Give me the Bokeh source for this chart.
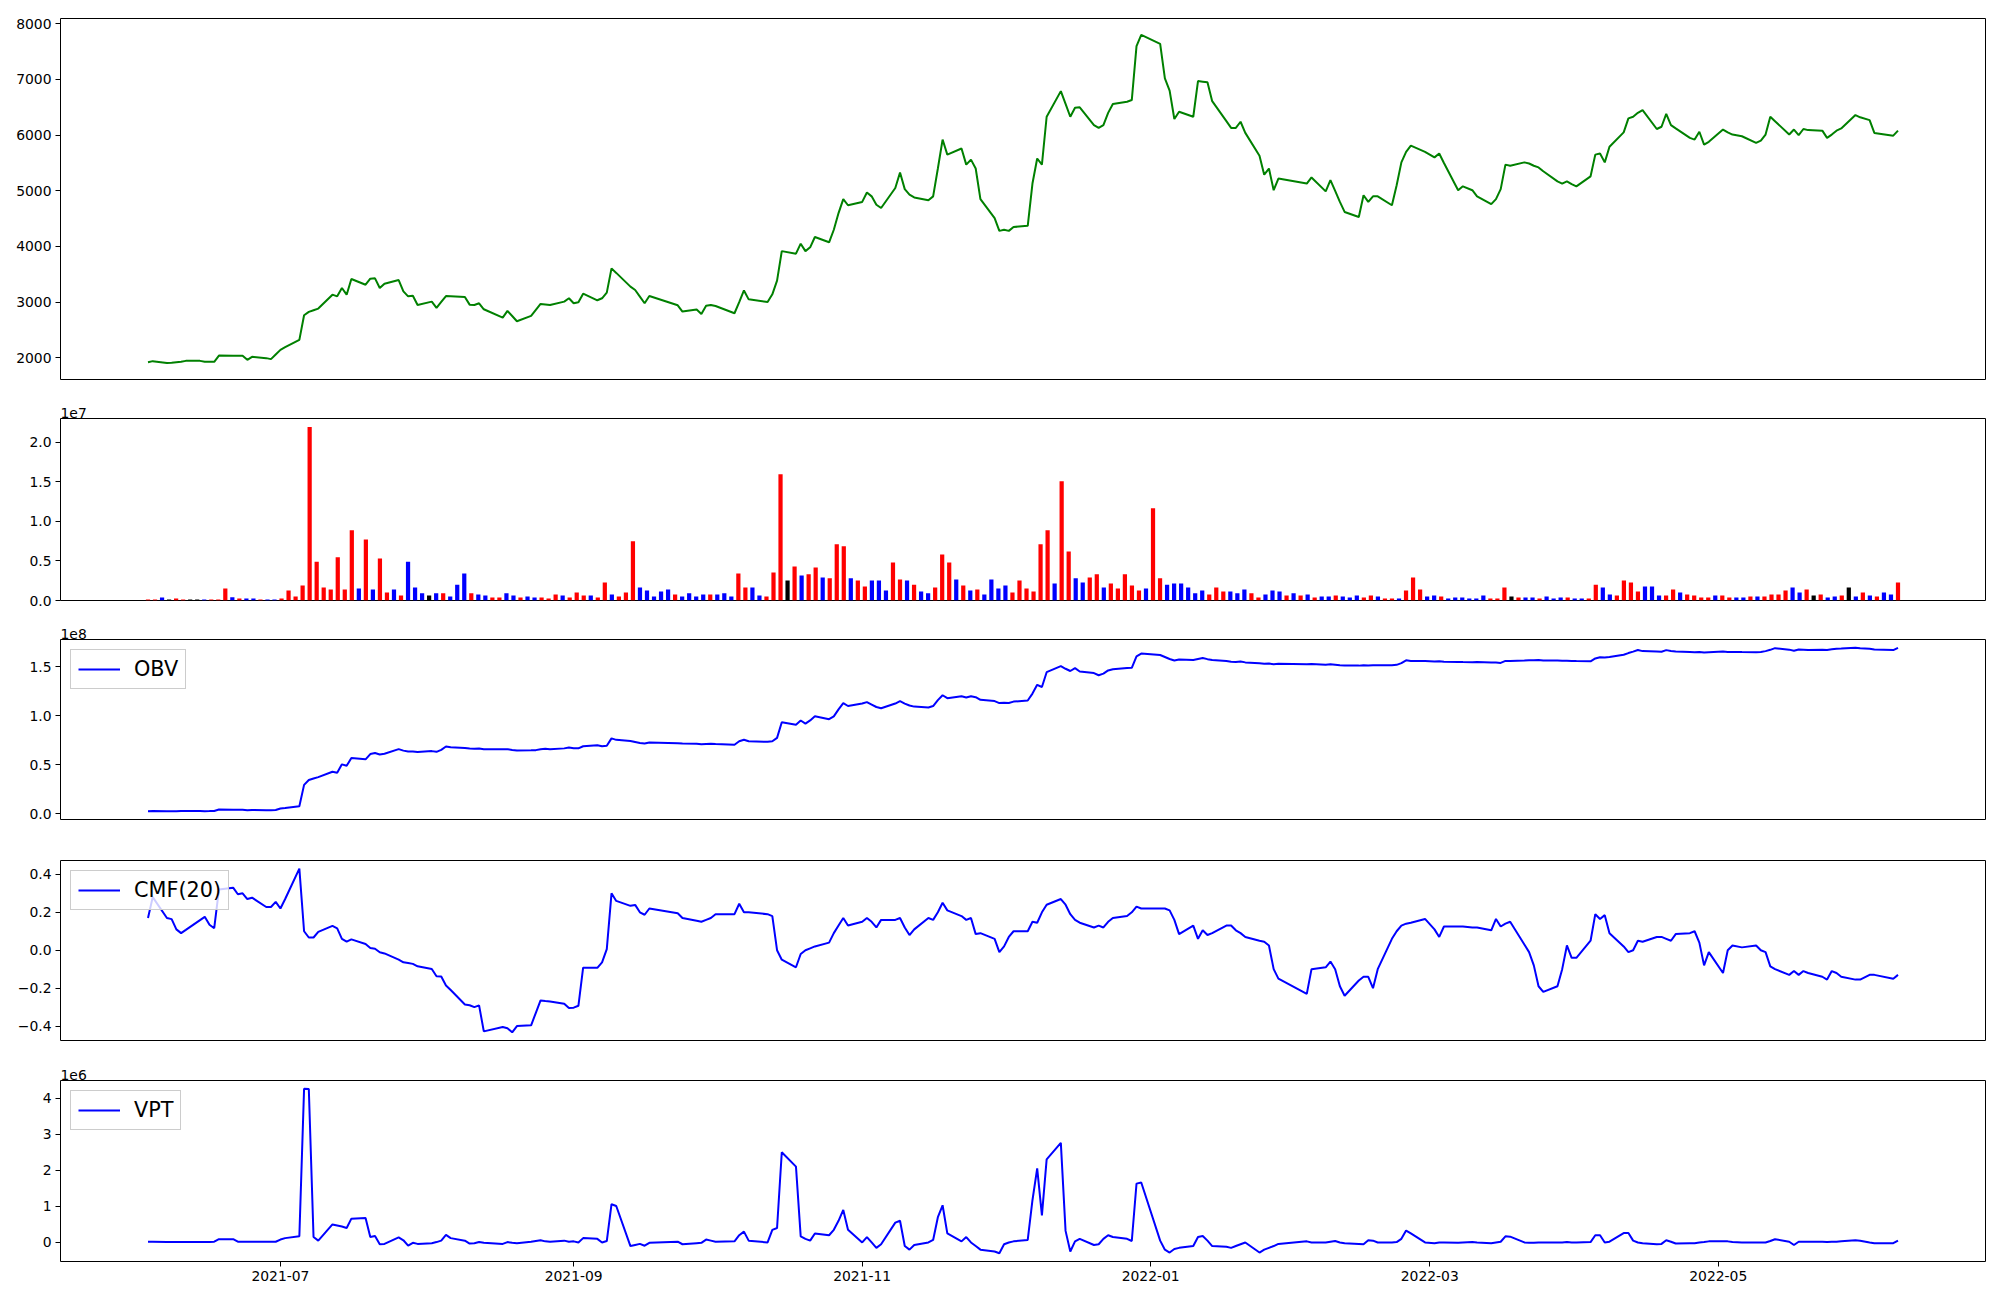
import pandas as pd
from bokeh.plotting import figure
from bokeh.layouts import column
from bokeh.models import (ColumnDataSource, Range1d, FixedTicker, CustomJSTickFormatter,
                          DatetimeTickFormatter, Title, Legend, LegendItem)
from bokeh.embed import file_html
from bokeh.resources import INLINE

# ---------------- data ----------------
holidays = ["2021-08-16", "2021-09-20", "2021-09-21", "2021-09-22", "2021-10-04", "2021-10-11",
            "2021-12-31", "2022-01-31", "2022-02-01", "2022-02-02", "2022-03-01", "2022-03-09",
            "2022-05-05", "2022-06-01", "2022-06-06"]
dates = pd.bdate_range("2021-06-03", "2022-06-08", freq="C", holidays=holidays)

close = [1920, 1940, 1905, 1910, 1920, 1930, 1945, 1945, 1928, 1928,
         1928, 2040, 2038, 2037, 2036, 1964, 2018, 1994, 1976, 2060,
         2143, 2190, 2322, 2764, 2824, 2854, 2884, 3134, 3104, 3254,
         3134, 3415, 3313, 3421, 3427, 3254, 3331, 3397, 3194, 3104,
         3116, 2949, 3009, 2896, 3003, 3110, 3106, 3093, 2955, 2949,
         2979, 2872, 2722, 2842, 2750, 2657, 2752, 2860, 2967, 2958,
         2949, 3009, 3069, 2979, 2997, 3152, 3033, 3069, 3170, 3606,
         3525, 3278, 3218, 3100, 2979, 3110, 2943, 2830, 2866, 2788,
         2935, 2950, 2930, 2800, 3000, 3210, 3050, 3004, 3140, 3385,
         3916, 3870, 4050, 3916, 3985, 4170, 4075, 4300, 4600, 4850,
         4740, 4800, 4970, 4900, 4750, 4690, 5050, 5330, 5030, 4930,
         4880, 4830, 4900, 5400, 5920, 5650, 5760, 5470, 5560, 5400,
         4850, 4510, 4280, 4300, 4280, 4350, 4370, 5130, 5580, 5470,
         6330, 6790, 6560, 6330, 6490, 6500, 6180, 6130, 6180, 6400,
         6560, 6600, 6630, 7600, 7800, 7640, 7020, 6800, 6290, 6420,
         6330, 6970, 6960, 6950, 6610, 6250, 6130, 6130, 6240, 6040,
         5630, 5290, 5400, 5010, 5220, 5130, 5240, 4990, 5190, 5000,
         4800, 4620, 4530, 4920, 4800, 4900, 4900, 4740, 5100, 5510,
         5700, 5810, 5700, 5600, 5670, 5500, 5010, 5080, 5010, 4900,
         4760, 4850, 5030, 5470, 5450, 5510, 5490, 5450, 5420, 5350,
         5170, 5130, 5170, 5120, 5080, 5260, 5650, 5670, 5510, 5790,
         6050, 6300, 6330, 6400, 6450, 6110, 6150, 6380, 6180, 6120,
         5950, 5920, 6060, 5830, 5880, 6100, 6050, 6010, 5980, 5860,
         5900, 6010, 6330, 6250, 6010, 6100, 6000, 6110, 6090, 6080,
         5950, 6010, 6080, 6120, 6360, 6320, 6270, 6040, 5990, 6080]

# volume in units of 1e7
volume = [0.013, 0.013, 0.038, 0.013, 0.025, 0.013, 0.013, 0.013, 0.013, 0.013,
          0.013, 0.15, 0.04, 0.025, 0.025, 0.025, 0.013, 0.013, 0.013, 0.025,
          0.127, 0.05, 0.19, 2.19, 0.49, 0.165, 0.14, 0.545, 0.14, 0.886,
          0.15, 0.77, 0.14, 0.53, 0.10, 0.14, 0.063, 0.49, 0.165, 0.09,
          0.063, 0.09, 0.09, 0.05, 0.2, 0.34, 0.09, 0.076, 0.063, 0.038,
          0.038, 0.09, 0.063, 0.038, 0.05, 0.038, 0.038, 0.025, 0.076, 0.063,
          0.038, 0.10, 0.063, 0.063, 0.038, 0.228, 0.076, 0.05, 0.10, 0.747,
          0.165, 0.127, 0.05, 0.114, 0.14, 0.076, 0.05, 0.09, 0.05, 0.076,
          0.076, 0.076, 0.09, 0.05, 0.34, 0.165, 0.165, 0.063, 0.05, 0.354,
          1.595, 0.253, 0.43, 0.316, 0.33, 0.418, 0.29, 0.28, 0.71, 0.684,
          0.28, 0.253, 0.177, 0.253, 0.253, 0.127, 0.48, 0.266, 0.253, 0.2,
          0.114, 0.09, 0.165, 0.58, 0.48, 0.266, 0.19, 0.127, 0.14, 0.076,
          0.266, 0.152, 0.19, 0.10, 0.253, 0.152, 0.114, 0.71, 0.886, 0.215,
          1.506, 0.62, 0.28, 0.228, 0.29, 0.33, 0.165, 0.215, 0.152, 0.33,
          0.19, 0.127, 0.152, 1.165, 0.28, 0.2, 0.215, 0.215, 0.165, 0.09,
          0.127, 0.076, 0.165, 0.114, 0.114, 0.09, 0.14, 0.09, 0.038, 0.076,
          0.127, 0.114, 0.063, 0.09, 0.063, 0.076, 0.038, 0.05, 0.05, 0.063,
          0.05, 0.038, 0.063, 0.038, 0.063, 0.05, 0.025, 0.025, 0.025, 0.127,
          0.29, 0.14, 0.05, 0.063, 0.05, 0.025, 0.038, 0.038, 0.025, 0.025,
          0.063, 0.025, 0.025, 0.165, 0.05, 0.038, 0.038, 0.038, 0.025, 0.05,
          0.025, 0.038, 0.038, 0.025, 0.025, 0.025, 0.2, 0.165, 0.076, 0.063,
          0.253, 0.228, 0.114, 0.177, 0.177, 0.063, 0.063, 0.14, 0.10, 0.076,
          0.063, 0.038, 0.038, 0.063, 0.063, 0.038, 0.038, 0.038, 0.05, 0.05,
          0.05, 0.076, 0.076, 0.127, 0.165, 0.10, 0.14, 0.063, 0.076, 0.038,
          0.05, 0.063, 0.165, 0.05, 0.10, 0.063, 0.05, 0.10, 0.076, 0.228]

bar_color_codes = ("rrbkrrkkbr" "rrbrbbrbbr" "rrrrrrrrrr" "brbrrbrbbb" "kbrbbbrbbr"
                   "rbbrbbrrrb" "rrrbrrbrrr" "bbbbbrbbbb" "rbbbrrbbrr" "rkrbrrbrrr"
                   "brrbbbrrbr" "bbrrrbrbrb" "bbbrrrrrrb" "rrbbrrbrrr" "rrbrrbbbbb"
                   "brrrbbbrrb" "bbrbrbrbbr" "bbbrrbrrbr" "rrbbrbbbbb" "brrrkrbbrb"
                   "bbrbbrrbbr" "rrrbbbrrbr" "rrrbrrbbrb" "rrrrbbrkrb" "brkbrbrbbr")

# OBV in units of 1e8
obv = [0.027, 0.028, 0.026, 0.026, 0.027, 0.028, 0.028, 0.028, 0.027, 0.028,
       0.030, 0.045, 0.041, 0.043, 0.041, 0.038, 0.040, 0.038, 0.037, 0.040,
       0.055, 0.060, 0.077, 0.296, 0.345, 0.360, 0.375, 0.430, 0.420, 0.505,
       0.490, 0.570, 0.556, 0.610, 0.620, 0.606, 0.613, 0.660, 0.645, 0.636,
       0.636, 0.630, 0.640, 0.633, 0.653, 0.687, 0.680, 0.673, 0.667, 0.663,
       0.667, 0.660, 0.658, 0.660, 0.652, 0.646, 0.648, 0.650, 0.660, 0.664,
       0.660, 0.668, 0.677, 0.670, 0.668, 0.690, 0.700, 0.690, 0.694, 0.770,
       0.755, 0.744, 0.733, 0.722, 0.717, 0.727, 0.720, 0.717, 0.715, 0.710,
       0.712, 0.714, 0.712, 0.705, 0.740, 0.756, 0.740, 0.735, 0.740, 0.775,
       0.935, 0.910, 0.952, 0.920, 0.953, 0.995, 0.966, 0.995, 1.066, 1.130,
       1.100, 1.125, 1.140, 1.115, 1.090, 1.077, 1.125, 1.150, 1.125, 1.105,
       1.094, 1.085, 1.100, 1.160, 1.210, 1.180, 1.200, 1.187, 1.200, 1.190,
       1.163, 1.150, 1.130, 1.134, 1.130, 1.145, 1.156, 1.227, 1.316, 1.294,
       1.445, 1.507, 1.480, 1.457, 1.486, 1.452, 1.436, 1.414, 1.430, 1.463,
       1.474, 1.488, 1.490, 1.607, 1.635, 1.620, 1.600, 1.580, 1.565, 1.575,
       1.570, 1.580, 1.590, 1.578, 1.570, 1.560, 1.552, 1.550, 1.555, 1.545,
       1.535, 1.530, 1.533, 1.527, 1.530, 1.525, 1.528, 1.522, 1.525, 1.520,
       1.515, 1.514, 1.512, 1.515, 1.513, 1.515, 1.517, 1.515, 1.520, 1.537,
       1.566, 1.560, 1.558, 1.555, 1.557, 1.552, 1.550, 1.548, 1.547, 1.548,
       1.545, 1.543, 1.540, 1.560, 1.560, 1.564, 1.566, 1.568, 1.570, 1.565,
       1.565, 1.562, 1.562, 1.560, 1.558, 1.556, 1.585, 1.598, 1.595, 1.600,
       1.623, 1.640, 1.655, 1.672, 1.660, 1.655, 1.653, 1.670, 1.662, 1.655,
       1.650, 1.648, 1.652, 1.645, 1.648, 1.655, 1.650, 1.652, 1.650, 1.648,
       1.652, 1.660, 1.673, 1.690, 1.675, 1.664, 1.676, 1.675, 1.672, 1.675,
       1.671, 1.678, 1.685, 1.687, 1.695, 1.690, 1.685, 1.676, 1.671, 1.694]

cmf20 = [0.17, 0.28, 0.17, 0.164, 0.11, 0.09, 0.107, 0.159, 0.176, 0.134,
         0.116, 0.32, 0.33, 0.295, 0.30, 0.27, 0.277, 0.228, 0.228, 0.255,
         0.22, 0.27, 0.43, 0.10, 0.067, 0.067, 0.097, 0.128, 0.115, 0.06,
         0.045, 0.057, 0.033, 0.012, 0.008, -0.011, -0.017, -0.05, -0.064, -0.067,
         -0.072, -0.085, -0.099, -0.137, -0.139, -0.186, -0.21, -0.286, -0.29, -0.30,
         -0.291, -0.428, -0.405, -0.412, -0.433, -0.40, -0.396, -0.33, -0.265, -0.268,
         -0.27, -0.282, -0.305, -0.303, -0.293, -0.092, -0.093, -0.064, 0.006, 0.30,
         0.26, 0.234, 0.239, 0.20, 0.187, 0.22, 0.195, 0.17, 0.155, 0.15,
         0.16, 0.17, 0.19, 0.19, 0.245, 0.20, 0.20, 0.19, 0.18, 0.0,
         -0.05, -0.09, -0.02, 0.0, 0.01, 0.02, 0.04, 0.09, 0.13, 0.17,
         0.13, 0.15, 0.17, 0.15, 0.12, 0.16, 0.16, 0.17, 0.12, 0.08,
         0.11, 0.17, 0.16, 0.20, 0.25, 0.21, 0.18, 0.16, 0.17, 0.085,
         0.09, 0.06, -0.01, 0.02, 0.07, 0.10, 0.10, 0.15, 0.145, 0.20,
         0.24, 0.27, 0.24, 0.19, 0.16, 0.145, 0.12, 0.13, 0.12, 0.15,
         0.17, 0.18, 0.20, 0.23, 0.22, 0.22, 0.22, 0.21, 0.16, 0.085,
         0.13, 0.06, 0.105, 0.08, 0.09, 0.13, 0.13, 0.105, 0.09, 0.07,
         0.05, 0.045, 0.025, -0.10, -0.15, -0.23, -0.10, -0.09, -0.06, -0.10,
         -0.19, -0.24, -0.16, -0.14, -0.14, -0.20, -0.10, 0.06, 0.10, 0.13,
         0.14, 0.145, 0.165, 0.11, 0.07, 0.125, 0.125, 0.125, 0.12, 0.12,
         0.105, 0.165, 0.125, 0.14, 0.15, 0.03, -0.01, -0.08, -0.19, -0.22,
         -0.19, -0.10, 0.025, -0.04, -0.04, 0.05, 0.19, 0.165, 0.185, 0.09,
         0.02, -0.01, 0.0, 0.05, 0.045, 0.07, 0.07, 0.06, 0.05, 0.085,
         0.09, 0.10, 0.04, -0.08, -0.01, -0.12, 0.0, 0.025, 0.015, 0.025,
         0.0, -0.01, -0.085, -0.10, -0.13, -0.11, -0.13, -0.11, -0.12, -0.14,
         -0.155, -0.11, -0.12, -0.14, -0.155, -0.155, -0.13, -0.13, -0.15, -0.13]

# VPT in units of 1e6
vpt = [0.02, 0.02, 0.01, 0.01, 0.015, 0.015, 0.015, 0.015, 0.015, 0.015,
       0.02, 0.09, 0.09, 0.02, 0.02, 0.02, 0.02, 0.02, 0.02, 0.02,
       0.08, 0.12, 0.17, 4.26, 4.25, 0.15, 0.05, 0.50, 0.47, 0.44,
       0.40, 0.66, 0.68, 0.15, 0.18, -0.05, -0.04, 0.14, 0.06, -0.09,
       -0.01, -0.04, -0.02, 0.01, 0.05, 0.21, 0.12, 0.05, -0.03, -0.02,
       0.01, -0.01, -0.04, 0.01, -0.01, -0.02, 0.02, 0.04, 0.06, 0.03,
       0.02, 0.05, 0.02, 0.03, 0.0, 0.12, 0.10, 0.0, 0.04, 1.06,
       1.01, -0.10, -0.07, -0.04, -0.09, -0.01, 0.02, -0.05, -0.02, -0.01,
       0.08, 0.05, 0.02, 0.03, 0.2, 0.3, 0.05, 0.0, 0.35, 0.4,
       2.5, 2.1, 0.17, 0.1, 0.05, 0.25, 0.2, 0.35, 0.6, 0.9,
       0.35, 0.0, 0.15, 0.0, -0.15, -0.05, 0.55, 0.6, -0.1, -0.2,
       -0.07, 0.0, 0.07, 0.7, 1.03, 0.25, 0.03, 0.15, 0.0, -0.1,
       -0.2, -0.25, -0.3, -0.05, 0.0, 0.03, 0.07, 1.17, 2.05, 0.75,
       2.3, 2.76, 0.32, -0.25, 0.03, 0.1, -0.07, -0.05, 0.1, 0.2,
       0.15, 0.1, 0.04, 1.63, 1.66, 0.05, -0.2, -0.28, -0.18, -0.15,
       -0.1, 0.15, 0.18, 0.05, -0.1, -0.12, -0.15, -0.1, -0.05, 0.0,
       -0.28, -0.2, -0.15, -0.1, -0.04, 0.03, 0.0, 0.0, 0.02, 0.04,
       0.0, -0.02, -0.04, -0.05, 0.06, 0.05, 0.0, 0.0, 0.01, 0.1,
       0.33, 0.25, 0.0, -0.02, 0.0, 0.0, -0.01, 0.0, 0.01, 0.0,
       -0.02, 0.0, 0.02, 0.17, 0.16, 0.0, -0.01, -0.01, 0.0, 0.0,
       0.0, 0.0, 0.01, 0.0, 0.0, 0.01, 0.2, 0.2, 0.0, 0.02,
       0.26, 0.26, 0.05, 0.0, -0.02, -0.05, -0.04, 0.06, 0.02, -0.03,
       -0.02, -0.02, 0.0, 0.01, 0.03, 0.03, 0.03, 0.01, 0.0, 0.0,
       0.0, 0.0, 0.04, 0.09, 0.02, -0.07, 0.02, 0.02, 0.02, 0.02,
       0.01, 0.02, 0.02, 0.03, 0.06, 0.05, 0.0, -0.02, -0.02, 0.05]

x_tick_labels = ["2021-07", "2021-09", "2021-11", "2022-01", "2022-03", "2022-05"]

# ---------------- helpers ----------------
FONT = "DejaVu Sans"
TICK_PX = "13.9px"
W = 1992
LEFT, RIGHT = 60, 7
color_map = {"r": "red", "b": "blue", "k": "black"}

n = len(dates)
src = ColumnDataSource(dict(date=dates, close=close, obv=obv, cmf=cmf20, vpt=vpt))
bar_src = ColumnDataSource(dict(idx=list(range(n)), vol=volume,
                                color=[color_map[c] for c in bar_color_codes]))

span = dates[-1] - dates[0]
date_range = Range1d(dates[0] - span * 0.05, dates[-1] + span * 0.05)


def pad_range(vals, lo0=None):
    lo, hi = min(vals), max(vals)
    d = (hi - lo) * 0.05
    return Range1d(lo - d if lo0 is None else lo0, hi + d)


def make_fig(height, top, bottom, x_range, y_range, x_type="datetime", offset_text=None):
    kw = {}
    if offset_text is not None:
        kw["title"] = Title(text=offset_text, align="left", text_font=FONT,
                            text_font_size=TICK_PX, text_font_style="normal",
                            text_color="black", standoff=2, offset=0)
    p = figure(width=W, height=height, x_range=x_range, y_range=y_range,
               x_axis_type=x_type, output_backend="svg", toolbar_location=None,
               min_border_left=LEFT, min_border_right=RIGHT,
               min_border_top=top, min_border_bottom=bottom, **kw)
    p.grid.visible = False
    p.outline_line_color = "black"
    p.outline_line_width = 1
    p.outline_line_alpha = 1
    p.background_fill_color = "white"
    p.border_fill_color = "white"
    for ax in p.yaxis + p.xaxis:
        ax.axis_line_color = None
        ax.major_tick_line_color = "black"
        ax.major_tick_line_width = 1
        ax.major_tick_out = 5
        ax.major_tick_in = 0
        ax.minor_tick_line_color = None
        ax.major_label_text_font = FONT
        ax.major_label_text_font_size = TICK_PX
        ax.major_label_text_color = "black"
        ax.major_label_standoff = 4
    return p


def yfmt(digits):
    return CustomJSTickFormatter(
        code=f"return tick.toFixed({digits}).replace('-', '\u2212');")


def add_legend(p, renderer, text):
    leg = Legend(items=[LegendItem(label=text, renderers=[renderer])], location="top_left",
                 label_text_font=FONT, label_text_font_size="20.8px",
                 label_text_color="black", glyph_width=42, glyph_height=24,
                 label_standoff=14, padding=7, margin=10, spacing=0,
                 border_line_color="#cccccc", border_line_alpha=1.0,
                 background_fill_alpha=0.8)
    p.add_layout(leg)


# ---------------- price ----------------
p1 = make_fig(398, 18, 19, date_range, pad_range(close))
p1.line("date", "close", source=src, line_color="green", line_width=2)
p1.yaxis.ticker = FixedTicker(ticks=[2000, 3000, 4000, 5000, 6000, 7000, 8000])
p1.yaxis.formatter = yfmt(0)
p1.xaxis.visible = False

# ---------------- volume ----------------
vol_x = Range1d(-0.05 * (n - 1), (n - 1) * 1.05)
p2 = make_fig(221, 20, 19, vol_x, pad_range(volume, lo0=0), x_type="linear",
              offset_text="1e7")
p2.vbar(x="idx", top="vol", width=0.6, source=bar_src, fill_color="color",
        line_color=None)
p2.yaxis.ticker = FixedTicker(ticks=[0, 0.5, 1.0, 1.5, 2.0])
p2.yaxis.formatter = yfmt(1)
p2.xaxis.visible = False

# ---------------- OBV ----------------
p3 = make_fig(221, 20, 21, date_range, pad_range(obv), offset_text="1e8")
r3 = p3.line("date", "obv", source=src, line_color="blue", line_width=2)
p3.yaxis.ticker = FixedTicker(ticks=[0, 0.5, 1.0, 1.5])
p3.yaxis.formatter = yfmt(1)
p3.xaxis.visible = False
add_legend(p3, r3, "OBV")

# ---------------- CMF ----------------
p4 = make_fig(220, 20, 20, date_range, pad_range(cmf20))
r4 = p4.line("date", "cmf", source=src, line_color="blue", line_width=2)
p4.yaxis.ticker = FixedTicker(ticks=[-0.4, -0.2, 0.0, 0.2, 0.4])
p4.yaxis.formatter = yfmt(1)
p4.xaxis.visible = False
add_legend(p4, r4, "CMF(20)")

# ---------------- VPT ----------------
p5 = make_fig(232, 20, 31, date_range, pad_range(vpt), offset_text="1e6")
r5 = p5.line("date", "vpt", source=src, line_color="blue", line_width=2)
p5.yaxis.ticker = FixedTicker(ticks=[0, 1, 2, 3, 4])
p5.yaxis.formatter = yfmt(0)
tick_ms = [pd.Timestamp(s + "-01").value // 10**6 for s in x_tick_labels]
p5.xaxis.ticker = FixedTicker(ticks=tick_ms)
fmt = "%Y-%m"
p5.xaxis.formatter = DatetimeTickFormatter(milliseconds=fmt, seconds=fmt, minsec=fmt,
                                           minutes=fmt, hourmin=fmt, hours=fmt, days=fmt,
                                           months=fmt, years=fmt)
add_legend(p5, r5, "VPT")

layout = column(p1, p2, p3, p4, p5, spacing=0)
open("out.html", "w").write(file_html(layout, INLINE))
